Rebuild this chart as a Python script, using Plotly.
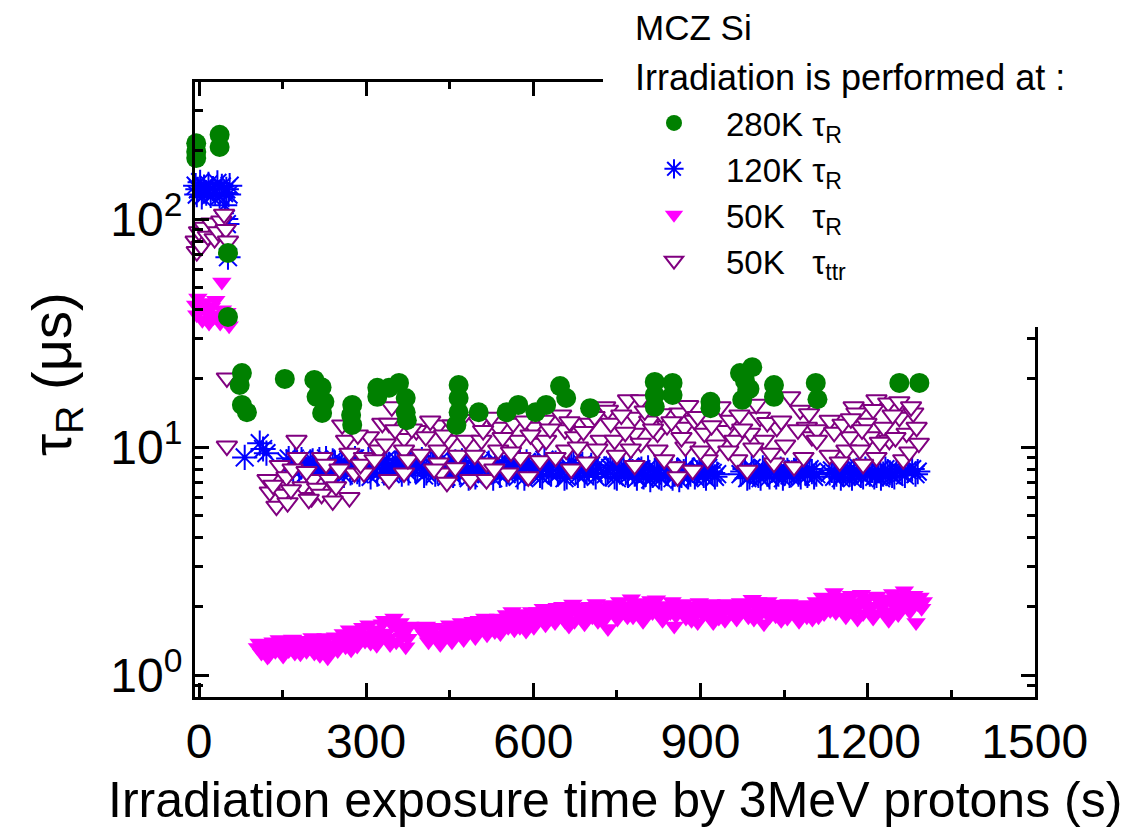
import plotly.graph_objects as go

# ---------------- data ----------------
# 280K tau_R (green circles)
g_x = [-5, -5, -5, 37, 37, 52, 52,
       77, 73, 77, 86, 154, 207, 220, 211, 225, 221, 216, 275, 273, 275,
       320, 320, 341, 359, 371, 371, 373, 466, 466, 466, 462, 502, 552,
       573, 604, 623, 648, 659, 702, 818, 818, 818, 850, 850, 918, 918,
       971, 993, 984, 975, 980, 988, 1032, 1032, 1107, 1110, 1257, 1293]
g_y = [215, 197, 185, 234, 207, 71, 37.2,
       21.1, 18.7, 15.3, 14.2, 19.9, 19.7, 18.3, 16.6, 15.8, 14.1, 17.5, 15.3, 13.8, 12.5,
       18.2, 16.6, 18.2, 19.1, 16.4, 14.2, 13.1, 18.7, 16.4, 14.2, 12.5, 14.2, 14.2,
       15.3, 14.2, 15.3, 18.5, 16.4, 14.8, 19.3, 16.9, 15.0, 19.1, 16.9, 15.8, 14.8,
       21.1, 22.4, 17.8, 16.1, 19.5, 18.0, 18.7, 16.6, 19.1, 16.2, 19.1, 19.1]

# 120K tau_R (blue asterisks)
b_x = [-6, -4, -2, 2, 5, 9, 13, 17, 21, 25, 29, 33, 37, 41, 45, 49, 53, 55, 48, 50, 52, 46,
       82, 109, 121, 115,
       157, 165, 172, 180, 188, 196, 204, 212, 220, 228, 236, 244, 252, 260, 268, 276, 284,
       292, 300, 308, 316, 324, 332, 340, 348, 356, 364, 372, 380, 388, 396, 404, 412, 420,
       428, 436, 444, 452, 460, 468, 476, 484, 492, 500, 508, 516, 524, 532, 540, 548, 556,
       564, 572, 580, 588, 596, 604, 612, 620, 628, 636, 644, 652, 660, 668, 676, 684, 692,
       700, 708, 716,
       730, 738, 746, 754, 762, 770, 778, 786, 794, 802, 810, 818, 826, 834, 842, 850, 858,
       866, 874, 882, 890, 898, 906, 914, 922, 930,
       972, 980, 988, 996, 1004, 1012, 1020, 1028, 1036, 1044, 1052, 1060, 1068, 1076, 1084,
       1092, 1100, 1108,
       1132, 1140, 1148, 1156, 1164, 1172, 1180, 1188, 1196, 1204, 1212, 1220, 1228, 1236,
       1244, 1252, 1262, 1272, 1290,
       161, 169, 176, 184, 192, 200, 208, 216, 224, 232, 240, 248, 256, 264, 272, 280, 288,
       296, 304, 312, 320, 328, 336, 344, 352, 360, 368, 376, 384, 392, 400, 408, 416, 424,
       432, 440, 448, 456, 464, 472, 480, 488, 496, 504, 512, 520, 528, 536, 544, 552, 560,
       568, 576, 584, 592, 600, 608, 616, 624, 632, 640, 648, 656, 664, 672, 680, 688, 696,
       704, 712,
       734, 742, 750, 758, 766, 774, 782, 790, 798, 806, 814, 822, 830, 838, 846, 854, 862,
       870, 878, 886, 894, 902, 910, 918, 926,
       976, 984, 992, 1000, 1008, 1016, 1024, 1032, 1040, 1048, 1056, 1064, 1072, 1080, 1088,
       1096, 1104,
       1136, 1144, 1152, 1160, 1168, 1176, 1184, 1192, 1200, 1208, 1216, 1224, 1232, 1240,
       1248, 1257, 1267, 1280, 1286]
b_y = [140, 128, 135, 145, 125, 138, 130, 142, 127, 136, 131, 144, 126, 139, 130, 135, 128, 140, 100, 95, 68, 115,
       9.0, 10.4, 9.4, 9.8,
       8.6, 8.2, 8.9, 7.8, 8.4, 8.0, 8.7, 7.6, 8.3, 8.9, 7.9, 8.5, 8.1, 7.5, 8.8, 8.2, 7.8,
       8.6, 8.0, 7.4, 8.4, 8.9, 7.7, 8.3, 8.0, 8.7, 7.6, 8.2, 8.6, 7.9, 8.4, 7.5, 8.1, 8.8,
       7.8, 8.3, 7.4, 8.0, 8.6, 7.7, 8.2, 7.3, 8.5, 7.9, 8.3, 7.6, 8.0, 8.7, 7.5, 8.1, 7.8,
       8.4, 7.4, 8.0, 8.6, 7.7, 8.2, 7.5, 8.8, 7.9, 8.3, 7.6, 8.1, 7.4, 8.5, 7.8, 8.2, 7.5,
       8.0, 7.7, 8.3,
       7.6, 8.1, 7.4, 7.9, 8.3, 7.5, 7.8, 7.3, 8.0, 7.6, 7.2, 7.9, 7.4, 8.1, 7.7, 7.3, 7.9,
       7.5, 8.2, 7.6, 7.4, 7.9, 7.5, 8.1, 7.7, 7.6,
       7.6, 8.0, 7.4, 7.8, 7.5, 8.1, 7.6, 7.9, 7.4, 8.0, 7.7, 7.5, 7.9, 7.6, 8.1,
       7.5, 7.8, 7.6,
       7.7, 7.4, 8.0, 7.6, 7.8, 7.3, 7.9, 7.5, 8.0, 7.6, 7.4, 7.9, 7.6, 7.8,
       7.5, 8.0, 7.7, 7.9, 7.8,
       8.9, 7.9, 8.5, 8.8, 7.7, 8.6, 8.2, 8.8, 7.7, 8.4, 8.7, 7.6, 8.6, 8.3, 7.7, 8.9, 7.6,
       8.3, 8.8, 8.1, 7.6, 8.5, 8.8, 7.6, 8.4, 8.1, 8.8, 7.7, 8.4, 8.1, 8.8, 7.7, 8.4, 7.6,
       8.7, 8.0, 8.6, 7.5, 8.2, 8.7, 7.8, 8.1, 7.4, 8.6, 7.9, 8.5, 7.3, 8.1, 8.6, 7.6, 8.3,
       8.0, 8.6, 7.3, 8.3, 7.9, 8.5, 7.4, 8.2, 7.6, 8.5, 7.9, 7.3, 8.2, 8.5, 7.5, 8.4, 7.8,
       8.3, 7.4,
       7.9, 8.3, 7.3, 8.0, 7.7, 8.2, 7.6, 7.9, 7.4, 8.1, 7.5, 7.9, 7.3, 7.7, 8.1, 7.6, 7.2,
       7.8, 7.4, 7.9, 7.7, 8.2, 7.3, 7.8, 7.4,
       7.8, 7.3, 8.1, 7.7, 7.3, 7.9, 7.4, 8.1, 7.6, 7.3, 7.9, 7.7, 8.0, 7.4, 7.7,
       8.0, 7.4,
       7.9, 7.6, 7.3, 8.0, 7.6, 7.7, 8.1, 7.4, 7.8, 7.9, 7.5, 7.3, 8.0, 7.7,
       7.4, 7.8, 7.5, 8.0, 7.6]

# 50K tau_R (magenta filled triangles)
m_x = [-6, -4, -2, 2, 6, 10, 14, 18, 22, 26, 30, 34, 38, 42, 46, 50, 54, 41,
       105, 112, 119, 126, 133, 140, 147, 154, 161, 168, 175, 182, 189, 196, 203, 210, 217, 224,
       231, 238, 245, 252, 259, 266, 273, 280, 287, 294, 301, 308, 315, 322, 329, 336, 343, 350,
       357, 364, 371, 378,
       398, 405, 412, 419, 426, 433, 440, 447, 454, 461, 468, 475, 482, 489, 496, 503, 510, 517,
       524, 531, 538, 545, 552, 559, 566, 573, 580, 587, 594, 601,
       608, 615, 622, 629, 636, 643, 650, 657, 664, 671, 678, 685, 692, 699, 706, 713, 720, 727,
       734, 741, 748, 755, 762, 769, 776, 783, 790, 797, 804, 811, 818, 825, 832, 839, 846, 853,
       860, 867, 874, 881, 888, 895, 902, 909, 916, 923, 930, 937, 944, 951, 958, 965, 972, 979,
       986, 993, 1000, 1007, 1014, 1021, 1028, 1035, 1042, 1049, 1056, 1063, 1070, 1077, 1084,
       1091, 1098, 1105, 1112, 1119, 1126, 1133, 1140, 1147, 1154, 1161, 1168, 1175, 1182, 1189,
       1196, 1203, 1210, 1217, 1224, 1231, 1238, 1245, 1252, 1259, 1266, 1273, 1280, 1287, 1294,
       1300,
       108, 116, 123, 130, 137, 144, 151, 158, 165, 172, 179, 186, 193, 200, 207, 214, 221, 228,
       235, 242, 249, 256, 263, 270, 277, 284, 291, 298, 305, 312, 319, 326, 333, 340, 347, 354,
       361, 368, 375,
       401, 408, 415, 422, 429, 436, 443, 450, 457, 464, 471, 478, 485, 492, 499, 506, 513, 520,
       527, 534, 541, 548, 555, 562, 569, 576, 583, 590, 597, 604,
       611, 618, 625, 632, 639, 646, 653, 660, 667, 674, 681, 688, 695, 702, 709, 716, 723, 730,
       737, 744, 751, 758, 765, 772, 779, 786, 793, 800, 807, 814, 821, 828, 835, 842, 849, 856,
       863, 870, 877, 884, 891, 898, 905, 912, 919, 926, 933, 940, 947, 954, 961, 968, 975, 982,
       989, 996, 1003, 1010, 1017, 1024, 1031, 1038, 1045, 1052, 1059, 1066, 1073, 1080, 1087,
       1094, 1101, 1108, 1115, 1122, 1129, 1136, 1143, 1150, 1157, 1164, 1171, 1178, 1185, 1192,
       1199, 1206, 1213, 1220, 1227, 1234, 1241, 1248, 1255, 1262, 1269, 1276, 1283, 1290, 1297]
m_y = [42, 38, 45, 40, 36, 43, 39, 35, 41, 37, 44, 38, 35, 40, 36, 39, 34, 53,
       1.32, 1.25, 1.36, 1.22, 1.40, 1.30, 1.26, 1.38, 1.28, 1.44, 1.33, 1.24, 1.42, 1.31, 1.46, 1.35, 1.22, 1.40,
       1.19, 1.30, 1.47, 1.36, 1.52, 1.40, 1.29, 1.55, 1.45, 1.62, 1.50, 1.38, 1.58, 1.44, 1.68, 1.53, 1.36, 1.78,
       1.60, 1.47, 1.33, 1.64,
       1.62, 1.50, 1.40, 1.57, 1.45, 1.36, 1.60, 1.49, 1.40, 1.63, 1.52, 1.43, 1.68, 1.56, 1.46, 1.74, 1.62, 1.50,
       1.66, 1.55, 1.78, 1.64, 1.84, 1.70, 1.58, 1.80, 1.66, 1.56, 1.75, 1.62,
       1.90, 1.76, 1.66, 1.95, 1.82, 1.98, 1.86, 1.72, 1.64, 2.05, 1.90, 1.78, 1.68, 1.94, 1.80, 2.06, 1.88, 1.74,
       1.60, 1.98, 1.84, 2.10, 1.92, 1.80, 2.16, 2.00, 1.86, 1.72, 1.95, 2.12, 1.98, 1.84, 1.74, 2.02, 1.88, 1.64,
       2.03, 1.90, 1.78, 2.00, 1.86, 1.70, 2.04, 1.92, 1.80, 1.70, 2.02, 1.88, 1.74, 2.00, 1.86, 1.76, 2.08, 1.94,
       1.80, 2.15, 2.00, 1.84, 1.68, 2.10, 1.95, 1.82, 2.05, 1.90, 1.78, 1.98, 1.84, 1.72, 1.94,
       1.80, 2.02, 1.90, 1.80, 2.20, 2.05, 1.92, 2.30, 2.12, 1.96, 1.80, 2.18, 2.02, 1.76, 2.26,
       2.10, 1.94, 1.78, 2.22, 2.06, 1.90, 1.74, 2.28, 2.12, 1.95, 2.34, 2.16, 1.98, 1.70, 2.20,
       2.10,
       1.38, 1.30, 1.20, 1.34, 1.27, 1.43, 1.21, 1.35, 1.31, 1.25, 1.40, 1.34, 1.27, 1.38, 1.25, 1.44, 1.30, 1.46,
       1.25, 1.36, 1.28, 1.44, 1.33, 1.58, 1.42, 1.34, 1.50, 1.41, 1.66, 1.47, 1.35, 1.52, 1.74, 1.45, 1.66, 1.40,
       1.70, 1.55, 1.45,
       1.55, 1.64, 1.46, 1.62, 1.50, 1.42, 1.55, 1.66, 1.46, 1.56, 1.70, 1.50, 1.62, 1.72, 1.55, 1.66, 1.78, 1.58,
       1.72, 1.62, 1.52, 1.74, 1.62, 1.90, 1.72, 1.62, 1.86, 1.70, 1.90, 1.70,
       1.82, 1.96, 1.74, 1.88, 1.70, 1.92, 2.00, 1.80, 1.92, 1.72, 1.98, 1.86, 1.74, 2.00, 1.90, 1.72, 1.96, 1.84,
       2.04, 1.90, 1.76, 2.02, 1.86, 1.98, 1.80, 2.08, 1.94, 1.82, 2.04, 1.88, 2.14, 1.90, 1.80, 1.96, 2.10, 1.82,
       1.96, 2.06, 1.86, 1.74, 1.96, 2.08, 1.84, 1.98, 2.06, 1.86, 1.78, 1.96, 2.06, 1.90, 2.04, 1.84, 1.96, 2.06,
       1.88, 1.76, 2.10, 1.92, 2.00, 1.80, 2.02, 1.92, 1.74, 1.98, 2.06, 1.90, 2.02, 1.86, 2.04,
       1.90, 1.76, 2.10, 1.96, 1.86, 2.16, 2.02, 1.88, 2.20, 2.06, 1.92, 2.24, 1.94, 2.08, 1.86,
       2.18, 2.00, 1.86, 2.14, 2.00, 1.82, 2.16, 2.02, 1.84, 2.20, 2.04, 1.90, 2.24, 2.06, 1.96]

# 50K tau_ttr (purple open triangles)
p_x = [-6, -4, 0, 4, 10, 16, 22, 28, 34, 40, 45, 48, 52, 50, 50,
       123, 127, 139, 145, 150, 157, 159, 175, 177, 186, 202, 204, 212, 220, 221, 234, 246, 257, 264,
       270, 270, 279, 296, 296, 305, 323, 329, 341, 346, 341,
       368, 368, 368, 390, 407, 430, 430, 430, 434, 445, 448, 465, 479, 487, 502, 507, 516, 516,
       537, 537, 555, 564, 573, 577, 591, 600, 609, 621, 623, 650, 657, 659, 668, 675, 680, 702,
       721, 729,
       734, 739, 746, 770, 782, 782, 782, 793, 793, 808, 823, 823, 840, 854, 859, 862, 871, 873,
       886, 889, 907, 913, 936, 945, 954, 961, 966, 984, 989, 1007, 1014, 1032, 1037, 1061,
       1068, 1079, 1091, 1100,
       1109, 1109, 1132, 1132, 1162, 1168, 1175, 1180, 1186, 1198, 1204, 1216, 1216, 1229, 1237,
       1239, 1257, 1257, 1264, 1270, 1282, 1288,
       133, 165, 168, 193, 197, 228, 240, 252, 285, 290, 315, 335, 352,
       375, 382, 398, 415, 422, 440, 455, 460, 470, 495, 510, 525, 530, 545, 560, 585, 595, 612,
       630, 640, 665, 690, 695, 710, 715,
       750, 758, 765, 775, 800, 815, 830, 835, 848, 866, 878, 895, 900, 920, 928, 950, 970, 975,
       995, 1000, 1020, 1026, 1045, 1052, 1075, 1085, 1095,
       1140, 1150, 1155, 1170, 1190, 1192, 1210, 1222, 1245, 1250, 1275, 1278, 1292]
p_y = [80, 72, 88, 76, 92, 84, 96, 82, 88, 98, 105, 90, 80, 20.1, 10.1,
       7.2, 6.35, 5.5, 8.3, 6.2, 7.4, 5.7, 10.7, 9.0, 6.7, 6.0, 7.2, 6.6, 6.2, 9.0, 7.2, 6.7, 12.5, 10.7,
       9.4, 6.0, 7.7, 9.0, 7.7, 11.1, 9.7, 12.7, 7.2, 15.0, 12.7,
       10.9, 9.7, 7.7, 11.8, 11.1, 12.5, 9.7, 8.5, 7.7, 7.0, 10.7, 9.2, 10.7, 7.2, 12.9, 10.7, 8.5, 7.2,
       12.2, 9.7, 7.7, 12.7, 10.7, 9.0, 7.4, 12.2, 10.4, 13.1, 10.7, 13.8, 11.9, 9.7, 8.0, 11.1, 10.0, 12.7,
       10.7, 15.0,
       14.5, 12.7, 10.7, 16.1, 13.5, 11.5, 8.3, 16.1, 10.4, 13.0, 11.5, 9.7, 12.4, 8.2, 7.4, 14.1, 12.2, 10.0,
       7.9, 13.1, 11.5, 8.8, 15.0, 11.8, 13.1, 10.7, 8.8, 7.9, 11.5, 13.5, 10.7, 8.5, 12.2, 16.6,
       8.2, 14.5, 12.2, 11.1,
       11.9, 10.7, 13.1, 9.2, 9.7, 11.1, 15.0, 14.1, 9.7, 12.7, 11.1, 16.1, 9.0, 12.2, 15.6,
       10.7, 15.8, 13.5, 8.8, 11.5, 14.1, 12.2,
       6.8, 6.5, 8.0, 7.8, 5.9, 8.4, 5.8, 8.0, 11.3, 8.4, 8.8, 10.3, 11.9,
       8.8, 12.0, 9.3, 13.0, 8.0, 11.3, 12.5, 8.1, 13.2, 9.2, 11.8, 13.5, 8.0, 11.0, 9.5, 13.0, 11.3, 8.7,
       12.0, 9.0, 12.9, 11.7, 8.6, 13.6, 9.8,
       9.2, 13.8, 11.6, 9.8, 14.4, 12.0, 14.0, 8.8, 12.9, 11.0, 15.2, 13.6, 9.6, 12.4, 10.2, 9.6, 13.8, 12.0,
       9.9, 15.4, 12.8, 9.4, 13.0, 10.2, 11.9, 9.0, 14.0,
       11.6, 8.6, 12.6, 13.3, 11.9, 8.4, 14.6, 10.5, 13.8, 11.0, 9.5, 15.0, 10.4]

x_tickvals = [0, 300, 600, 900, 1200, 1500]
y_tickvals = [1, 10, 100]
y_ticktext = ["10<sup>0</sup>", "10<sup>1</sup>", "10<sup>2</sup>"]
y_minor = [0.8, 0.9, 2, 3, 4, 5, 6, 7, 8, 9, 20, 30, 40, 50, 60, 70, 80, 90, 200, 300]

FONT = "Liberation Sans, Arial, sans-serif"

fig = go.Figure()

fig.add_trace(go.Scatter(
    x=b_x, y=b_y, mode="markers", name="120K τ<sub>R</sub>", legendrank=2,
    cliponaxis=False,
    marker=dict(symbol="asterisk-open", size=21, color="#0000FF",
                line=dict(color="#0000FF", width=2))))
fig.add_trace(go.Scatter(
    x=m_x, y=m_y, mode="markers", name="50K&nbsp;&nbsp;&nbsp;τ<sub>R</sub>", legendrank=3,
    cliponaxis=False,
    marker=dict(symbol="triangle-down", size=17, color="#FF00FF",
                line=dict(width=0))))
fig.add_trace(go.Scatter(
    x=p_x, y=p_y, mode="markers", name="50K&nbsp;&nbsp;&nbsp;τ<sub>ttr</sub>", legendrank=4,
    cliponaxis=False,
    marker=dict(symbol="triangle-down", size=18, color="white",
                line=dict(color="#800080", width=2))))
fig.add_trace(go.Scatter(
    x=g_x, y=g_y, mode="markers", name="280K τ<sub>R</sub>", legendrank=1,
    cliponaxis=False,
    marker=dict(symbol="circle", size=20, color="#008000", line=dict(width=0))))

L, R, T, B = 195, 89, 82, 139
PW, PH = 1124 - L - R, 836 - T - B


def px2paper(px, py):
    return (px - L) / PW, (836 - B - py) / PH


axis_common = dict(
    showline=True, linecolor="black", linewidth=3, mirror="ticks",
    ticks="inside", ticklen=14, tickwidth=2.5, tickcolor="black",
    showgrid=False, zeroline=False,
    tickfont=dict(family=FONT, size=48, color="black"),
)

fig.update_xaxes(
    range=[-7.2, 1500.5], tickmode="array", tickvals=x_tickvals,
    minor=dict(ticks="inside", ticklen=7, tickwidth=2.5, tickcolor="black", dtick=150, tick0=0),
    **axis_common)
fig.update_yaxes(
    type="log", range=[-0.0965, 2.601], tickmode="array", tickvals=y_tickvals,
    ticktext=y_ticktext,
    minor=dict(ticks="inside", ticklen=8, tickwidth=2.5, tickcolor="black",
               tickmode="array", tickvals=y_minor),
    **axis_common)

# white box that hides part of the frame behind the legend block
x0, y0 = px2paper(603, 327)
x1, y1 = px2paper(1124, 0)
fig.add_shape(type="rect", xref="paper", yref="paper", x0=x0, x1=x1, y0=y0, y1=y1,
              fillcolor="white", line=dict(width=0), layer="above")

ann = []
ax, ay = px2paper(615, 800)
ann.append(dict(text="Irradiation exposure time by 3MeV protons (s)", x=ax, y=ay,
                xref="paper", yref="paper", showarrow=False, xanchor="center", yanchor="middle",
                font=dict(family=FONT, size=50, color="black")))
ax, ay = px2paper(55, 374)
ann.append(dict(text="τ<sub>R</sub> (μs)", x=ax, y=ay, textangle=-90,
                xref="paper", yref="paper", showarrow=False, xanchor="center", yanchor="middle",
                font=dict(family=FONT, size=56, color="black")))
ax, ay = px2paper(633, 27)
ann.append(dict(text="MCZ Si", x=ax, y=ay, xref="paper", yref="paper", showarrow=False,
                xanchor="left", yanchor="middle", font=dict(family=FONT, size=35, color="black")))
ax, ay = px2paper(633, 77)
ann.append(dict(text="Irradiation is performed at :", x=ax, y=ay, xref="paper", yref="paper",
                showarrow=False, xanchor="left", yanchor="middle",
                font=dict(family=FONT, size=36, color="black")))

lx, ly = px2paper(622, 95)
fig.update_layout(
    width=1124, height=836,
    margin=dict(l=L, r=R, t=T, b=B, pad=0),
    paper_bgcolor="white", plot_bgcolor="white",
    font=dict(family=FONT, color="black"),
    annotations=ann,
    showlegend=True,
    legend=dict(x=lx, y=ly, xanchor="left", yanchor="top", bgcolor="rgba(255,255,255,0)",
                borderwidth=0, itemwidth=94, font=dict(family=FONT, size=33, color="black"),
                tracegroupgap=0),
)

fig.write_html("out.html")
